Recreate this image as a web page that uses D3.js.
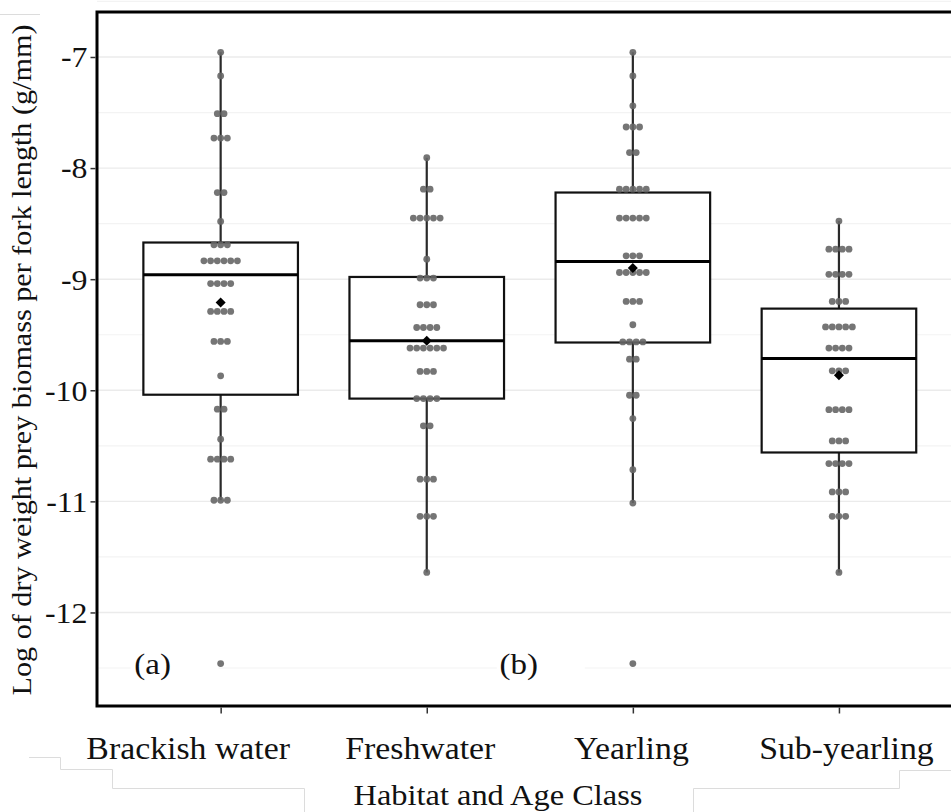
<!DOCTYPE html>
<html>
<head>
<meta charset="utf-8">
<script src="https://cdn.jsdelivr.net/npm/d3@7"></script>
<style>
  body { margin: 0; background: #fff; }
  svg { display: block; }
  text { font-family: "Liberation Serif", serif; fill: #111; }
</style>
</head>
<body>
<div id="chart"></div>
<script>
// categories on the x axis
var categories = ["Brackish water", "Freshwater", "Yearling", "Sub-yearling"];

// dot bins per group: [value, number of stacked dots]
var brackishDots = [[-6.958, 1], [-7.17, 1], [-7.51, 2], [-7.73, 3], [-8.22, 2], [-8.48, 1], [-8.69, 3],
  [-8.835, 6], [-9.04, 4], [-9.29, 4], [-9.56, 3], [-9.87, 1], [-10.17, 2], [-10.44, 1], [-10.62, 4],
  [-10.99, 3], [-12.46, 1]];
var freshDots = [[-7.907, 1], [-8.19, 2], [-8.45, 5], [-8.82, 1], [-8.99, 3], [-9.23, 3], [-9.435, 4],
  [-9.62, 6], [-9.83, 3], [-10.075, 4], [-10.32, 2], [-10.80, 3], [-11.135, 3], [-11.64, 1]];
var yearlingDots = [[-6.958, 1], [-7.17, 1], [-7.44, 1], [-7.63, 3], [-7.86, 2], [-8.19, 5], [-8.45, 5],
  [-8.79, 3], [-8.94, 5], [-9.20, 3], [-9.41, 1], [-9.565, 4], [-9.72, 2], [-10.045, 2], [-10.255, 1],
  [-10.715, 1], [-11.015, 1], [-12.46, 1]];
var subDots = [[-8.477, 1], [-8.73, 4], [-8.956, 4], [-9.20, 3], [-9.43, 5], [-9.62, 4], [-9.825, 3],
  [-10.175, 4], [-10.456, 3], [-10.66, 4], [-10.915, 3], [-11.135, 3], [-11.64, 1]];
var allDots = [brackishDots, freshDots, yearlingDots, subDots];

// box statistics, one per category
var whiskerHigh = [-6.958, -7.907, -6.958, -8.477];
var boxUpper = [-8.67, -8.98, -8.22, -9.265];
var boxMedian = [-8.96, -9.555, -8.84, -9.715];
var boxLower = [-10.04, -10.075, -9.57, -10.56];
var whiskerLow = [-10.99, -11.64, -11.015, -11.64];
var groupMeans = [-9.21, -9.555, -8.90, -9.865];

var yTicks = [-7, -8, -9, -10, -11, -12];
var yMinor = [-6.5, -7.5, -8.5, -9.5, -10.5, -11.5, -12.5];
var panelLabels = [["(a)", "Brackish water"], ["(b)", "Yearling"]];

var width = 951, height = 812;
var margin = { top: 12, left: 97, bottom: 706, right: 962.6 };

var svg = d3.select("#chart").append("svg")
  .attr("width", width)
  .attr("height", height);

svg.append("rect").attr("width", width).attr("height", height).attr("fill", "#fff");

var x = d3.scalePoint()
  .domain(categories)
  .range([margin.left, margin.right])
  .padding(0.6);

var y = d3.scaleLinear()
  .domain([-6.595, -12.842])
  .range([margin.top, margin.bottom]);

var boxW = x.step() * 0.75;
var dotR = 3.4;
var dotStep = 6.7;

// the original font is wider than Liberation Serif, so stretch glyphs a little
function widen(sel, k) {
  sel.each(function() {
    var len = this.getComputedTextLength();
    d3.select(this).attr("textLength", len * k).attr("lengthAdjust", "spacingAndGlyphs");
  });
}

// faint leftover edges around the labels in the source image
var ghost = svg.append("g").attr("stroke", "#dcdcdc").attr("fill", "none").attr("stroke-width", 1);
ghost.append("path").attr("d", "M29,757.5H60.5V769.5H112.5V788.5H304.5V812");
ghost.append("path").attr("d", "M693.5,812V788.5H899.5V770.5H951");
ghost.append("path").attr("d", "M0,14.5H40");

// grid lines
svg.append("g").selectAll("line")
  .data(yMinor).enter().append("line")
  .attr("x1", margin.left).attr("x2", width)
  .attr("y1", function(d) { return y(d); }).attr("y2", function(d) { return y(d); })
  .attr("stroke", "#f3f3f3").attr("stroke-width", 1.2);

svg.append("g").selectAll("line")
  .data(yTicks).enter().append("line")
  .attr("x1", margin.left).attr("x2", width)
  .attr("y1", function(d) { return y(d); }).attr("y2", function(d) { return y(d); })
  .attr("stroke", "#ebebeb").attr("stroke-width", 1.4);

// white patches behind the panel letters
var panelG = svg.append("g");
panelLabels.forEach(function(p, i) {
  var cx = x(p[1]);
  var lx = i === 0 ? cx - 68 : cx - 114;
  panelG.append("rect")
    .attr("x", lx - 22).attr("y", y(-12.2))
    .attr("width", 88).attr("height", y(-12.72) - y(-12.2))
    .attr("fill", "#fff");
  var t = panelG.append("text")
    .attr("x", lx).attr("y", 674)
    .attr("text-anchor", "middle")
    .style("font-size", "30px")
    .text(p[0]);
  widen(t, 1.1);
});

// whiskers
var groups = svg.append("g").selectAll("g")
  .data(categories).enter().append("g");

groups.append("line")
  .attr("x1", function(d) { return x(d); }).attr("x2", function(d) { return x(d); })
  .attr("y1", function(d, i) { return y(whiskerHigh[i]); })
  .attr("y2", function(d, i) { return y(whiskerLow[i]); })
  .attr("stroke", "#2a2a2a").attr("stroke-width", 2.2);

// boxes
groups.append("rect")
  .attr("x", function(d) { return x(d) - boxW / 2; })
  .attr("width", boxW)
  .attr("y", function(d, i) { return y(boxUpper[i]); })
  .attr("height", function(d, i) { return y(boxLower[i]) - y(boxUpper[i]); })
  .attr("fill", "#fff").attr("stroke", "#111").attr("stroke-width", 2.2);

groups.append("line")
  .attr("x1", function(d) { return x(d) - boxW / 2; })
  .attr("x2", function(d) { return x(d) + boxW / 2; })
  .attr("y1", function(d, i) { return y(boxMedian[i]); })
  .attr("y2", function(d, i) { return y(boxMedian[i]); })
  .attr("stroke", "#000").attr("stroke-width", 3);

// stacked dots, centred on each category
groups.each(function(cat, gi) {
  var pts = [];
  allDots[gi].forEach(function(b) {
    for (var k = 0; k < b[1]; k++) {
      pts.push({ v: b[0], off: (k - (b[1] - 1) / 2) * dotStep });
    }
  });
  d3.select(this).append("g").selectAll("circle")
    .data(pts).enter().append("circle")
    .attr("cx", function(d) { return x(cat) + d.off; })
    .attr("cy", function(d) { return y(d.v); })
    .attr("r", dotR)
    .attr("fill", "#666")
    .attr("fill-opacity", 0.9);
});

// means as diamonds
groups.append("path")
  .attr("d", d3.symbol().type(d3.symbolDiamond2).size(64))
  .attr("transform", function(d, i) { return "translate(" + x(d) + "," + y(groupMeans[i]) + ")"; })
  .attr("fill", "#000");

// panel frame
svg.append("path")
  .attr("d", "M" + width + "," + margin.top + "H" + margin.left + "V" + margin.bottom + "H" + width)
  .attr("fill", "none").attr("stroke", "#000").attr("stroke-width", 3);

// y axis
var yAxis = svg.append("g")
  .attr("transform", "translate(" + (margin.left - 1.5) + ",0)")
  .call(d3.axisLeft(y).tickValues(yTicks).tickSize(5).tickPadding(3));
yAxis.select(".domain").remove();
yAxis.selectAll(".tick line").attr("stroke", "#333").attr("stroke-width", 1.5);
yAxis.selectAll(".tick text").remove();
yAxis.selectAll(".tick").append("text")
  .attr("x", -8)
  .attr("dy", "0.34em")
  .attr("text-anchor", "end")
  .attr("font-family", "Liberation Serif, serif")
  .style("font-size", "29px")
  .attr("fill", "#111")
  .text(function(d) { return "-" + Math.abs(d); })
  .call(widen, 1.1);

// x axis
var xShift = [-33, -7, -2, 7];
var xAxis = svg.append("g")
  .attr("transform", "translate(0," + (margin.bottom + 1.5) + ")")
  .call(d3.axisBottom(x).tickSize(6).tickPadding(23));
xAxis.select(".domain").remove();
xAxis.selectAll(".tick line").attr("stroke", "#333").attr("stroke-width", 1.5);
xAxis.selectAll(".tick text")
  .style("font-family", "Liberation Serif, serif")
  .style("font-size", "31px").attr("fill", "#111")
  .attr("dy", "0.71em")
  .attr("x", function(d, i) { return xShift[i]; });
xAxis.selectAll(".tick text").call(widen, 1.09);

// axis titles
var xt = svg.append("text")
  .attr("x", 498).attr("y", 805)
  .attr("text-anchor", "middle")
  .style("font-size", "30px")
  .text("Habitat and Age Class");
widen(xt, 1.08);

var yt = svg.append("text")
  .attr("transform", "translate(31," + 360 + ") rotate(-90)")
  .attr("text-anchor", "middle")
  .style("font-size", "28px")
  .text("Log of dry weight prey biomass per fork length (g/mm)");
widen(yt, 1.077);
</script>
</body>
</html>
